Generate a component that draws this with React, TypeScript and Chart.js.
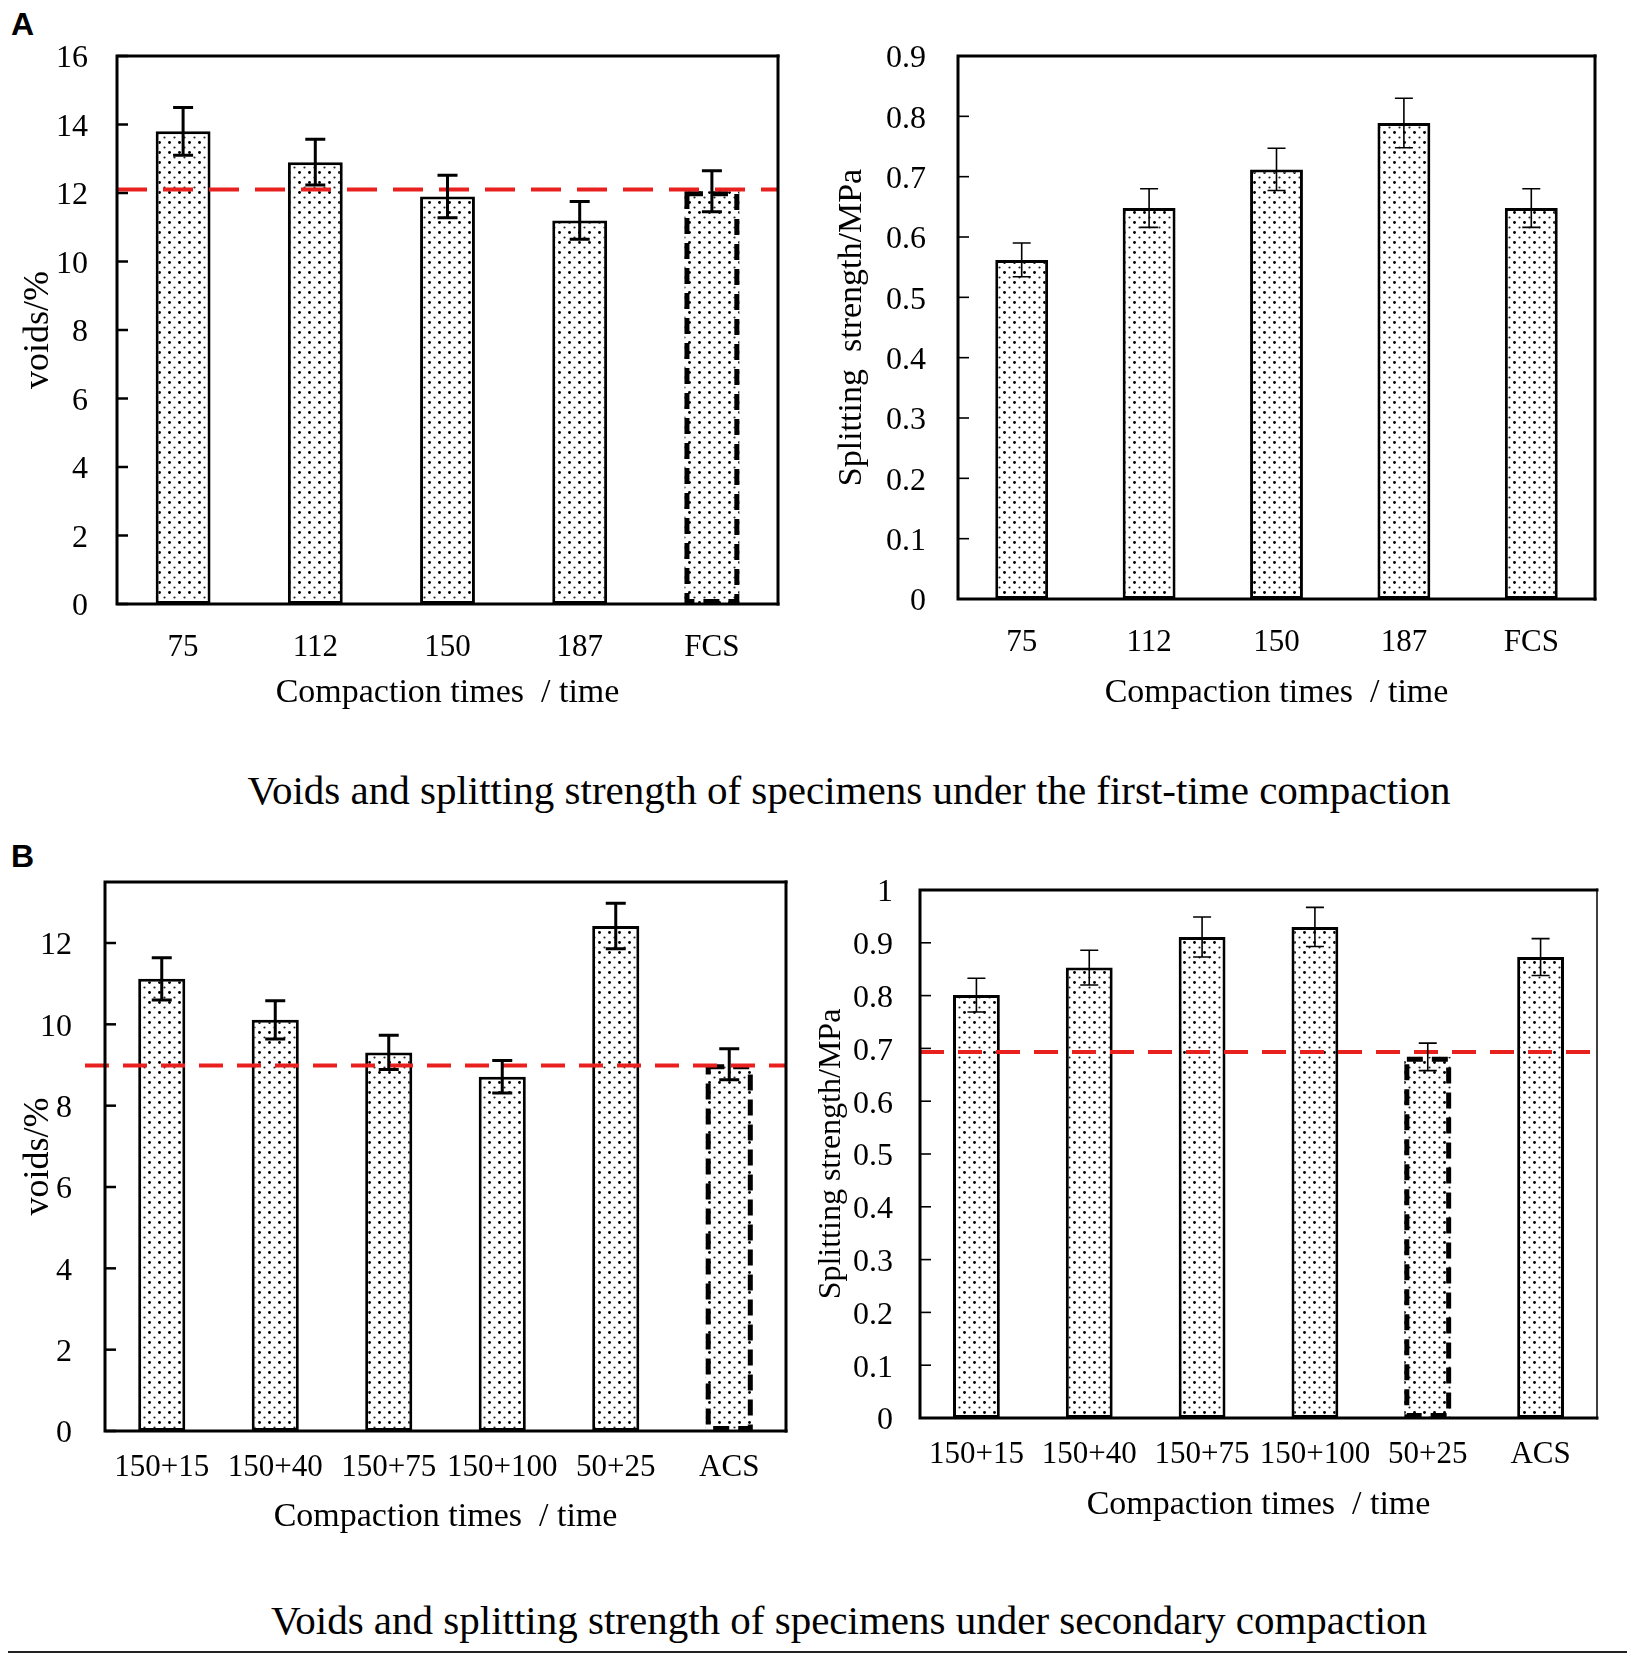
import React, { useEffect, useRef } from 'react';
import { Chart, registerables } from 'chart.js';

Chart.register(...registerables);

// ---------- data ----------
const labelsA = ['75', '112', '150', '187', 'FCS'];
const voidsA = [13.8, 12.9, 11.9, 11.2, 12.05];
const voidsAErr = [0.7, 0.67, 0.62, 0.55, 0.6];
const voidsARef = 12.1;
const strengthA = [0.562, 0.648, 0.712, 0.789, 0.648];
const strengthAErr = [0.028, 0.032, 0.035, 0.041, 0.032];

const labelsB = ['150+15', '150+40', '150+75', '150+100', '50+25', 'ACS'];
const voidsB = [11.12, 10.11, 9.31, 8.71, 12.42, 9.02];
const voidsBErr = [0.52, 0.47, 0.42, 0.4, 0.56, 0.38];
const voidsBRef = 8.99;
const strengthB = [0.801, 0.853, 0.911, 0.93, 0.684, 0.873];
const strengthBErr = [0.032, 0.033, 0.038, 0.037, 0.026, 0.035];
const strengthBRef = 0.693;

const rangeVoidsA = { min: 0, max: 16, step: 2 };
const rangeStrengthA = { min: 0, max: 0.9, step: 0.1 };
const rangeVoidsB = { min: 0, max: 13.5, step: 2 };
const rangeStrengthB = { min: 0, max: 1, step: 0.1 };

const xTitle = 'Compaction times  / time';
const captionA = 'Voids and splitting strength of specimens under the first-time compaction';
const captionB = 'Voids and splitting strength of specimens under secondary compaction';

const SERIF = "'Liberation Serif', 'Times New Roman', serif";
const SANS = "'Liberation Sans', Arial, sans-serif";

function makePattern(): CanvasPattern | string {
  const t = document.createElement('canvas');
  t.width = 10;
  t.height = 10;
  const c = t.getContext('2d');
  if (!c) return '#ddd';
  c.fillStyle = '#fff';
  c.fillRect(0, 0, 10, 10);
  c.fillStyle = '#000';
  c.beginPath();
  c.arc(2.5, 2.5, 1.45, 0, Math.PI * 2);
  c.fill();
  c.fillStyle = '#222';
  c.beginPath();
  c.arc(7.5, 7.5, 1.1, 0, Math.PI * 2);
  c.fill();
  const p = c.createPattern(t, 'repeat');
  return p || '#ddd';
}

const decor = {
  id: 'decor',
  afterDatasetsDraw(chart: any, _a: any, o: any) {
    const { ctx, chartArea: ca } = chart;
    const ys = chart.scales.y;
    const meta = chart.getDatasetMeta(0);
    const vals = chart.data.datasets[0].data as number[];
    ctx.save();
    ctx.strokeStyle = '#000';
    // dashed bar outline
    meta.data.forEach((bar: any, i: number) => {
      if (i !== o.dashedIndex) return;
      const p = bar.getProps(['x', 'y', 'base', 'width'], true);
      const lw = o.dashWidth;
      ctx.setLineDash(o.barDash);
      ctx.lineWidth = lw;
      ctx.strokeRect(p.x - p.width / 2 + lw / 2, p.y + lw / 2, p.width - lw, p.base - p.y - lw);
    });
    // reference line
    if (o.ref !== null && o.ref !== undefined) {
      const ry = ys.getPixelForValue(o.ref);
      ctx.setLineDash(o.refDash);
      ctx.strokeStyle = '#E8201E';
      ctx.lineWidth = 4;
      ctx.beginPath();
      ctx.moveTo(ca.left - o.refExtend, ry);
      ctx.lineTo(ca.right, ry);
      ctx.stroke();
    }
    // error bars
    ctx.setLineDash([]);
    ctx.strokeStyle = '#000';
    ctx.lineWidth = o.errWidth;
    (o.errs as number[]).forEach((e: number, i: number) => {
      const v = vals[i];
      const bx = meta.data[i].x;
      const yt = ys.getPixelForValue(v + e);
      const yb = ys.getPixelForValue(v - e);
      ctx.beginPath();
      ctx.moveTo(bx, yt);
      ctx.lineTo(bx, yb);
      ctx.moveTo(bx - o.cap, yt);
      ctx.lineTo(bx + o.cap, yt);
      ctx.moveTo(bx - o.cap, yb);
      ctx.lineTo(bx + o.cap, yb);
      ctx.stroke();
    });
    // inward y ticks
    ctx.lineWidth = o.tickWidth;
    ys.ticks.forEach((t: any) => {
      const ty = ys.getPixelForValue(t.value);
      ctx.beginPath();
      ctx.moveTo(ca.left, ty);
      ctx.lineTo(ca.left + o.tickLen, ty);
      ctx.stroke();
    });
    // frame
    ctx.lineWidth = o.frame;
    ctx.lineCap = 'square';
    ctx.beginPath();
    ctx.moveTo(ca.right, ca.top);
    ctx.lineTo(ca.left, ca.top);
    ctx.lineTo(ca.left, ca.bottom);
    ctx.lineTo(ca.right, ca.bottom);
    ctx.stroke();
    ctx.lineCap = 'butt';
    ctx.lineWidth = o.rightFrame;
    ctx.beginPath();
    ctx.moveTo(ca.right, ca.top - o.frame / 2);
    ctx.lineTo(ca.right, ca.bottom + o.frame / 2);
    ctx.stroke();
    ctx.restore();
  },
};

interface Cfg {
  box: { l: number; t: number; r: number; b: number };
  plot: { l: number; t: number; r: number; b: number };
  labels: string[];
  values: number[];
  errs: number[];
  range: { min: number; max: number; step: number };
  ref: number | null;
  refExtend: number;
  refDash: number[];
  yTitle: string;
  yTitleSize: number;
  yTickPad: number;
  xTickPad: number;
  dashedIndex: number;
  errWidth: number;
  cap: number;
  tickWidth: number;
  frame: number;
  rightFrame: number;
  decimals: number;
}

const TITLE_SIZE = 34;

function Panel({ cfg }: { cfg: Cfg }) {
  const ref = useRef<HTMLCanvasElement | null>(null);
  const w = cfg.box.r - cfg.box.l;
  const h = cfg.box.b - cfg.box.t;
  useEffect(() => {
    if (!ref.current) return;
    const pattern = makePattern();
    const yWidth = cfg.plot.l - cfg.box.l;
    const xHeight = cfg.box.b - cfg.plot.b;
    const chart = new Chart(ref.current, {
      type: 'bar',
      data: {
        labels: cfg.labels,
        datasets: [
          {
            data: cfg.values,
            backgroundColor: pattern as any,
            borderColor: '#000',
            borderWidth: ((c: any) => (c.dataIndex === cfg.dashedIndex ? 0 : 3)) as any,
            borderSkipped: false,
            barPercentage: 0.415,
            categoryPercentage: 1,
          },
        ],
      },
      options: {
        responsive: false,
        animation: false,
        devicePixelRatio: 1,
        layout: {
          padding: {
            left: 0,
            top: cfg.plot.t - cfg.box.t,
            right: cfg.box.r - cfg.plot.r,
            bottom: 0,
          },
        },
        plugins: {
          legend: { display: false },
          tooltip: { enabled: false },
          decor: {
            dashedIndex: cfg.dashedIndex,
            dashWidth: 5,
            barDash: [16, 9],
            ref: cfg.ref,
            refExtend: cfg.refExtend,
            refDash: cfg.refDash,
            errs: cfg.errs,
            errWidth: cfg.errWidth,
            cap: cfg.cap,
            tickWidth: cfg.tickWidth,
            tickLen: 11,
            frame: cfg.frame,
            rightFrame: cfg.rightFrame,
          },
        } as any,
        scales: {
          x: {
            grid: { display: false, drawTicks: false },
            border: { display: false },
            ticks: {
              color: '#000',
              padding: cfg.xTickPad,
              maxRotation: 0,
              autoSkip: false,
              font: { family: SERIF, size: 31 },
            },
            title: {
              display: true,
              text: xTitle,
              color: '#000',
              padding: 0,
              font: { family: SERIF, size: TITLE_SIZE },
            },
            afterFit: (s: any) => {
              s.height = xHeight;
              s.paddingLeft = 0;
              s.paddingRight = 0;
            },
          },
          y: {
            min: cfg.range.min,
            max: cfg.range.max,
            grid: { display: false, drawTicks: false },
            border: { display: false },
            ticks: {
              stepSize: cfg.range.step,
              includeBounds: false,
              color: '#000',
              padding: cfg.yTickPad,
              labelOffset: 3,
              font: { family: SERIF, size: 32 },
              callback: (v: any) => String(Math.round(Number(v) * Math.pow(10, cfg.decimals)) / Math.pow(10, cfg.decimals)),
            },
            title: {
              display: true,
              text: cfg.yTitle,
              color: '#000',
              padding: 0,
              font: { family: SERIF, size: cfg.yTitleSize },
            },
            afterFit: (s: any) => {
              s.width = yWidth;
              s.paddingTop = 0;
              s.paddingBottom = 0;
            },
          },
        },
      },
      plugins: [decor as any],
    });
    return () => chart.destroy();
  }, [cfg]);
  return (
    <canvas
      ref={ref}
      width={w}
      height={h}
      style={{ position: 'absolute', left: cfg.box.l, top: cfg.box.t, width: w, height: h }}
    />
  );
}

const cfgAL: Cfg = {
  box: { l: 17, t: 20, r: 798, b: 713 },
  plot: { l: 117, t: 56, r: 778, b: 604 },
  labels: labelsA,
  values: voidsA,
  errs: voidsAErr,
  range: rangeVoidsA,
  ref: voidsARef,
  refExtend: 0,
  refDash: [30, 16],
  yTitle: 'voids/%',
  yTitleSize: 36,
  yTickPad: 29,
  xTickPad: 25,
  dashedIndex: 4,
  errWidth: 3,
  cap: 10,
  tickWidth: 2.5,
  frame: 3,
  rightFrame: 3,
  decimals: 0,
};

const cfgAR: Cfg = {
  box: { l: 832, t: 20, r: 1615, b: 713 },
  plot: { l: 958, t: 56, r: 1595, b: 599 },
  labels: labelsA,
  values: strengthA,
  errs: strengthAErr,
  range: rangeStrengthA,
  ref: null,
  refExtend: 0,
  refDash: [30, 16],
  yTitle: 'Splitting  strength/MPa',
  yTitleSize: 34,
  yTickPad: 32,
  xTickPad: 25,
  dashedIndex: -1,
  errWidth: 1.6,
  cap: 9,
  tickWidth: 1.6,
  frame: 3,
  rightFrame: 3,
  decimals: 1,
};

const cfgBL: Cfg = {
  box: { l: 17, t: 850, r: 806, b: 1537 },
  plot: { l: 105, t: 882, r: 786, b: 1431 },
  labels: labelsB,
  values: voidsB,
  errs: voidsBErr,
  range: rangeVoidsB,
  ref: voidsBRef,
  refExtend: 20,
  refDash: [24, 14],
  yTitle: 'voids/%',
  yTitleSize: 36,
  yTickPad: 33,
  xTickPad: 18,
  dashedIndex: 5,
  errWidth: 3,
  cap: 10,
  tickWidth: 2.5,
  frame: 3,
  rightFrame: 3,
  decimals: 0,
};

const cfgBR: Cfg = {
  box: { l: 812, t: 850, r: 1617, b: 1525 },
  plot: { l: 920, t: 890, r: 1597, b: 1418 },
  labels: labelsB,
  values: strengthB,
  errs: strengthBErr,
  range: rangeStrengthB,
  ref: strengthBRef,
  refExtend: 0,
  refDash: [24, 14],
  yTitle: 'Splitting strength/MPa',
  yTitleSize: 32,
  yTickPad: 27,
  xTickPad: 18,
  dashedIndex: 4,
  errWidth: 1.6,
  cap: 9,
  tickWidth: 1.6,
  frame: 3,
  rightFrame: 1.5,
  decimals: 1,
};

export default function App() {
  const caption: React.CSSProperties = {
    position: 'absolute',
    left: 0,
    width: 1698,
    textAlign: 'center',
    fontFamily: SERIF,
    fontSize: 41,
    lineHeight: '41px',
    color: '#000',
    whiteSpace: 'nowrap',
  };
  const letter: React.CSSProperties = {
    position: 'absolute',
    left: 11,
    fontFamily: SANS,
    fontWeight: 'bold',
    fontSize: 32,
    lineHeight: '32px',
    color: '#000',
  };
  return (
    <div style={{ position: 'absolute', left: 0, top: 0, width: 1639, height: 1664, background: '#fff', overflow: 'hidden' }}>
      <div style={{ ...letter, top: 8 }}>A</div>
      <div style={{ ...letter, top: 840 }}>B</div>
      <Panel cfg={cfgAL} />
      <Panel cfg={cfgAR} />
      <Panel cfg={cfgBL} />
      <Panel cfg={cfgBR} />
      <div style={{ ...caption, top: 770 }}>{captionA}</div>
      <div style={{ ...caption, top: 1600 }}>{captionB}</div>
      <div style={{ position: 'absolute', left: 8, width: 1619, top: 1651, height: 2, background: '#222' }} />
    </div>
  );
}
